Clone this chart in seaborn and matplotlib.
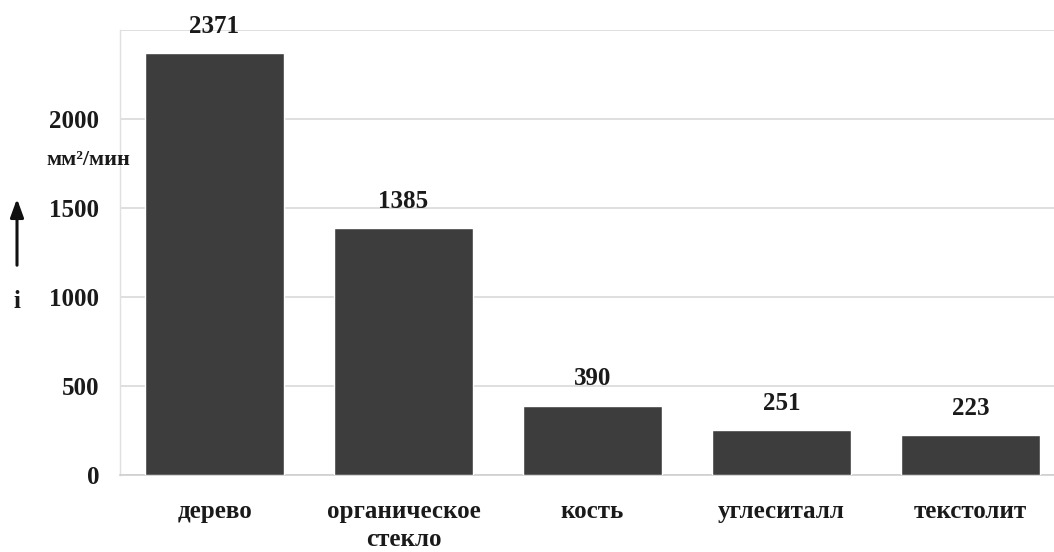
import matplotlib
matplotlib.use("Agg")
import matplotlib.pyplot as plt
import seaborn as sns
import pandas as pd

materials = ["дерево", "органическое\nстекло", "кость", "углеситалл", "текстолит"]
rates = [2371, 1385, 390, 251, 223]
y_ticks = [0, 500, 1000, 1500, 2000]

sns.set_theme(style="white")
plt.rcParams["font.family"] = ["Liberation Serif", "DejaVu Serif"]
plt.rcParams["font.weight"] = "bold"

df = pd.DataFrame({"material": materials, "rate": rates})

W, H = 1054, 552
fig = plt.figure(figsize=(W / 100, H / 100), dpi=100)
ax = fig.add_axes([120 / W, (H - 475) / H, (W - 120) / W, (475 - 30) / H])

sns.barplot(data=df, x="material", y="rate", color="#3d3d3d", width=0.735,
            saturation=1, ax=ax, zorder=3)

ax.set_xlim(-0.5, (W - 214.5) / 189)
ax.set_ylim(0, 2500)
ax.set_yticks(y_ticks + [2500])
ax.set_yticklabels([str(v) for v in y_ticks] + [""])
ax.grid(axis="y", color="#d9d9d9", linewidth=1.2, zorder=0)
ax.tick_params(axis="both", length=0, labelsize=18)
ax.tick_params(axis="y", pad=15)
ax.tick_params(axis="x", pad=18)
for lab in ax.get_xticklabels() + ax.get_yticklabels():
    lab.set_fontweight("bold")
    lab.set_color("#1a1a1a")
for lab in ax.get_xticklabels():
    lab.set_linespacing(1.3)
    lab.set_verticalalignment("top")

for s in ["top", "right"]:
    ax.spines[s].set_visible(False)
ax.spines["left"].set_color("#e0e0e0")
ax.spines["bottom"].set_color("#cfcfcf")
ax.spines["left"].set_linewidth(1.0)
ax.spines["bottom"].set_linewidth(1.2)

ax.set_xlabel("")
ax.set_ylabel("")

for i, v in enumerate(rates):
    ax.annotate(str(v), (i, v), xytext=(0, 11), textcoords="offset points",
                ha="center", va="bottom", fontsize=18, fontweight="bold",
                color="#1a1a1a", clip_on=False)

# unit label with upward arrow
fig.text(88 / W, 1 - 160 / H, "мм²/мин", ha="center", va="center",
         fontsize=16, fontweight="bold", color="#1a1a1a")
fig.text(17 / W, 1 - 302 / H, "i", ha="center", va="center",
         fontsize=18, fontweight="bold", color="#1a1a1a")
fig.patches.append(matplotlib.patches.FancyArrowPatch(
    (17 / W, 1 - 268 / H), (17 / W, 1 - 196 / H), transform=fig.transFigure,
    arrowstyle="-|>,head_length=5.5,head_width=2", color="#111111",
    linewidth=2.2, mutation_scale=2))

fig.savefig("out.png", dpi=100, facecolor="white")
